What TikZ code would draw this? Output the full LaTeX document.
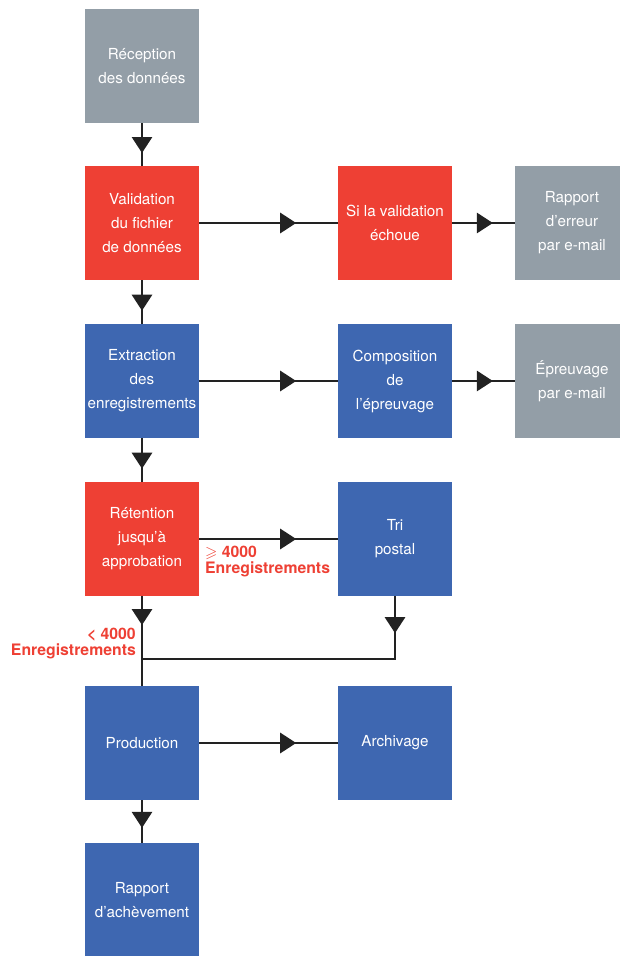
\documentclass[tikz,border=0pt]{standalone}
\usepackage{fontspec}
\setmainfont{TeX Gyre Heros}
\usepackage{amssymb}
\usetikzlibrary{arrows.meta, decorations.markings, positioning}

\definecolor{cGris}{HTML}{939EA7}
\definecolor{cRouge}{HTML}{EE4034}
\definecolor{cBleu}{HTML}{3E67B1}
\definecolor{cTrait}{HTML}{222222}

\tikzset{
  etape/.style={minimum width=114pt, minimum height=114pt, inner sep=0pt,
    text=white, align=center, font=\fontsize{15.2}{24}\selectfont},
  gris/.style={etape, fill=cGris},
  rouge/.style={etape, fill=cRouge},
  bleu/.style={etape, fill=cBleu},
  trait/.style={draw=cTrait, line width=2.8pt},
  fleche/.style={trait, postaction={decorate},
    decoration={markings, mark=at position #1 with {\arrow{Triangle[length=16pt,width=20pt]}}}},
  fleche/.default=0.7,
  seuil/.style={text=cRouge, inner sep=0pt, font=\bfseries\boldmath\fontsize{15.8}{16}\selectfont}
}

\begin{document}
\begin{tikzpicture}[x=1pt, y=-1pt]
    \useasboundingbox (0,0) rectangle (619,956);

    % colonne de gauche
    \node[gris]  (reception)  at (142,66)  {Réception\\des données};
    \node[rouge] (validation) at (142,223) {Validation\\du fichier\\de données};
    \node[bleu]  (extraction) at (142,381) {Extraction\\des\\enregistrements};
    \node[rouge] (retention)  at (142,539) {Rétention\\jusqu’à\\approbation};
    \node[bleu]  (production) at (142,743) {Production};
    \node[bleu]  (achevement) at (142,900) {Rapport\\d’achèvement};

    % colonne du milieu
    \node[rouge] (echec)       at (395,223) {Si la validation\\échoue};
    \node[bleu]  (composition) at (395,381) {Composition\\de\\l’épreuvage};
    \node[bleu]  (tri)         at (395,539) {Tri\\postal};
    \node[bleu]  (archivage)   at (395,743) {Archivage};

    % colonne de droite
    \node[gris] (rapportErr) at (572,223) {Rapport\\d’erreur\\par e-mail};
    \node[gris] (epreuve)    at (572,381) {Épreuvage\\par e-mail};

    \coordinate (jonction) at (142,659);

    % fleches
    \foreach \a/\b in {reception/validation, validation/extraction, extraction/retention,
                       validation/echec, extraction/composition, retention/tri,
                       production/archivage}
    {
        \draw[fleche] (\a) -- (\b);
    };
    \draw[fleche=0.65] (production) -- (achevement);
    \draw[fleche=0.65] (echec) -- (rapportErr);
    \draw[fleche=0.65] (composition) -- (epreuve);

    \draw[fleche=0.46] (retention) -- (jonction);
    \draw[trait] (jonction) -- (production);
    \draw[fleche=0.117] (tri) -- (tri |- jonction) -- (jonction);

    % seuils
    \node[seuil, anchor=north west, align=left]  (plus)  at (205,546) {$\geqslant$ 4000\\Enregistrements};
    \node[seuil, anchor=north east, align=right] (moins) at (136,628) {< 4000\\Enregistrements};

\end{tikzpicture}
\end{document}
